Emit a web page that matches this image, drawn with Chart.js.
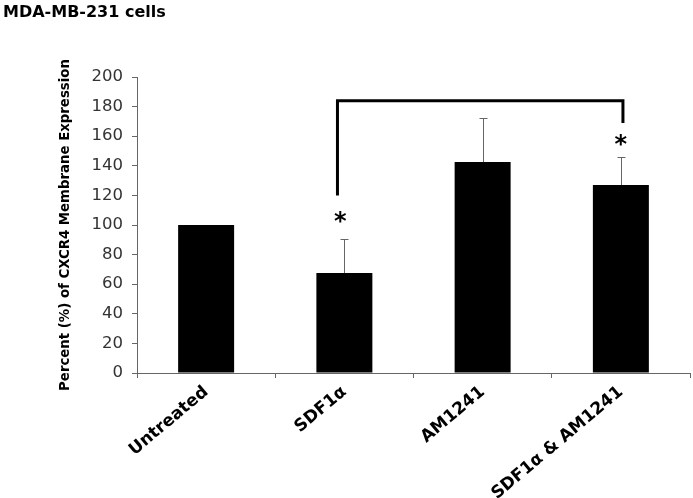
<!DOCTYPE html>
<html>
<head>
<meta charset="utf-8">
<script src="https://cdn.jsdelivr.net/npm/chart.js"></script>
<style>
  html, body { margin: 0; padding: 0; background: #fff; }
  #chart { display: block; }
</style>
</head>
<body>
<canvas id="chart" width="693" height="498"></canvas>
<script>
// Data
const categories = ['Untreated', 'SDF1\u03B1', 'AM1241', 'SDF1\u03B1 & AM1241'];
const meanValues = [100, 67.5, 142.5, 127];
const errorValues = [0, 23, 29.5, 19];
const yTicks = [0, 20, 40, 60, 80, 100, 120, 140, 160, 180, 200];
const chartTitle = 'MDA-MB-231 cells';
const yTitle = 'Percent (%) of CXCR4 Membrane Expression';
// significance bracket: [category, offset, value]
const bracketPoints = [[1, -0.05, 120], [1, -0.05, 184], [3, 0.015, 184], [3, 0.015, 169]];
const starMarks = [[1, -0.03, 105], [3, 0, 157]];

const FONT = "'DejaVu Sans', Arial, sans-serif";

function xPos(scale, cat, off) {
  // category width from neighbouring ticks
  const w = scale.getPixelForValue(1) - scale.getPixelForValue(0);
  return scale.getPixelForValue(cat) + off * w;
}

const extrasPlugin = {
  id: 'extras',
  afterDatasetsDraw(chart) {
    const ctx = chart.ctx;
    const xs = chart.scales.x, ys = chart.scales.y;
    ctx.save();
    // error bars (upper only)
    ctx.strokeStyle = '#666';
    ctx.lineWidth = 1;
    meanValues.forEach((v, i) => {
      if (!errorValues[i]) return;
      const x = Math.round(xs.getPixelForValue(i)) + 0.5;
      const y0 = ys.getPixelForValue(v);
      const y1 = Math.round(ys.getPixelForValue(v + errorValues[i])) + 0.5;
      ctx.beginPath();
      ctx.moveTo(x, y0);
      ctx.lineTo(x, y1);
      ctx.moveTo(x - 4, y1);
      ctx.lineTo(x + 4, y1);
      ctx.stroke();
    });
    // bracket
    ctx.strokeStyle = '#000';
    ctx.lineWidth = 3;
    ctx.lineJoin = 'miter';
    ctx.beginPath();
    bracketPoints.forEach((p, i) => {
      const x = xPos(xs, p[0], p[1]);
      const y = ys.getPixelForValue(p[2]);
      if (i === 0) ctx.moveTo(x, y); else ctx.lineTo(x, y);
    });
    ctx.stroke();
    // stars
    ctx.fillStyle = '#000';
    ctx.font = 'bold 24px ' + FONT;
    ctx.textAlign = 'center';
    ctx.textBaseline = 'middle';
    starMarks.forEach(s => {
      ctx.fillText('*', xPos(xs, s[0], s[1]), ys.getPixelForValue(s[2]) + 5);
    });
    // chart title
    ctx.font = 'bold 16px ' + FONT;
    ctx.textAlign = 'left';
    ctx.textBaseline = 'alphabetic';
    ctx.fillText(chartTitle, 3, 17);
    ctx.restore();
  }
};

new Chart(document.getElementById('chart'), {
  type: 'bar',
  data: {
    labels: categories,
    datasets: [{
      data: meanValues,
      backgroundColor: '#000',
      borderWidth: 0,
      barPercentage: 0.405,
      categoryPercentage: 1
    }]
  },
  options: {
    responsive: false,
    animation: false,
    devicePixelRatio: 1,
    layout: { padding: { top: 77, right: 3, left: 0, bottom: 0 } },
    plugins: { legend: { display: false }, tooltip: { enabled: false } },
    scales: {
      x: {
        grid: { drawOnChartArea: false, drawTicks: true, tickLength: 5, color: '#666', offset: true },
        border: { color: '#666', width: 1 },
        ticks: {
          color: '#000',
          font: { family: FONT, size: 17, weight: 'bold' },
          minRotation: 40,
          maxRotation: 40,
          autoSkip: false,
          padding: 4
        },
        afterFit(scale) { scale.height = 125; }
      },
      y: {
        min: 0,
        max: 200,
        afterBuildTicks(scale) { scale.ticks = yTicks.map(v => ({ value: v })); },
        grid: { drawOnChartArea: false, drawTicks: true, tickLength: 5, color: '#666' },
        border: { color: '#666', width: 1 },
        ticks: {
          color: '#333',
          font: { family: FONT, size: 16.5 },
          padding: 9
        },
        title: {
          display: true,
          text: yTitle,
          color: '#000',
          font: { family: FONT, size: 13.3, weight: 'bold' },
          padding: { top: 58, bottom: 0 }
        },
        afterFit(scale) { scale.width = 137; }
      }
    }
  },
  plugins: [extrasPlugin]
});
</script>
</body>
</html>
